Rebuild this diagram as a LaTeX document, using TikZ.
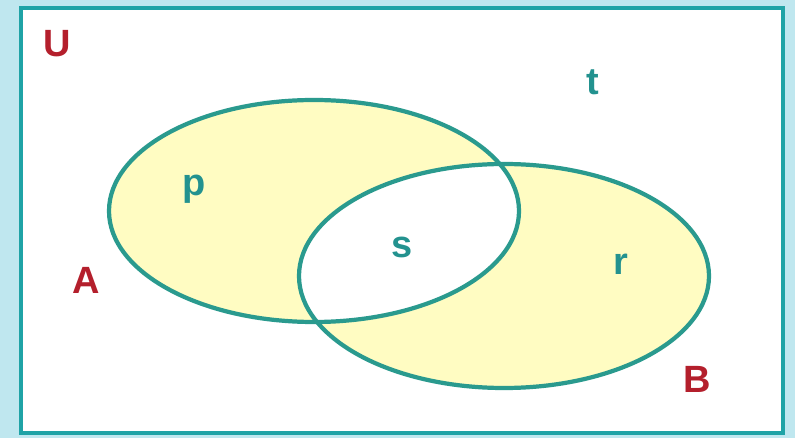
\documentclass[tikz,border=0pt]{standalone}
\usepackage{fontspec}
\setmainfont{Liberation Sans}
\usepackage{tikz}

\definecolor{skyback}{HTML}{BFE7EF}
\definecolor{framecol}{HTML}{1FA3A6}
\definecolor{ringcol}{HTML}{2A9A8E}
\definecolor{setfill}{HTML}{FFFCC2}
\definecolor{setred}{HTML}{B41F2C}
\definecolor{elemcol}{HTML}{23928F}

\tikzset{
  setname/.style={text=setred, font=\fontsize{27}{30}\selectfont\bfseries, inner sep=0pt},
  elem/.style={text=elemcol, font=\fontsize{27}{30}\selectfont\bfseries, inner sep=0pt},
  ring/.style={draw=ringcol, line width=3pt}
}

\begin{document}
\begin{tikzpicture}[x=0.025cm, y=0.025cm]
% background and universe frame
\fill[skyback] (0,0) rectangle (795,-438);
\useasboundingbox (0,0) rectangle (795,-438);
\draw[framecol, fill=white, line width=3.5pt] (21,-8) rectangle (783,-433);

% the two sets, symmetric difference shaded
\fill[setfill] (314,-211) ellipse [x radius=205, y radius=111];
\fill[setfill] (504,-276) ellipse [x radius=205, y radius=112];
\begin{scope}
  \clip (314,-211) ellipse [x radius=205, y radius=111];
  \fill[white] (504,-276) ellipse [x radius=205, y radius=112];
\end{scope}
\draw[ring] (314,-211) ellipse [x radius=205, y radius=111];
\draw[ring] (504,-276) ellipse [x radius=205, y radius=112];

% labels
\node[setname] (labU) at (57,-44) {U};
\node[setname] (labA) at (86,-280) {A};
\node[setname] (labB) at (697,-379) {B};
\node[elem] (elp) at (194,-189) {p};
\node[elem] (els) at (402,-247) {s};
\node[elem] (elr) at (621,-264) {r};
\node[elem] (elt) at (593,-82) {t};
\end{tikzpicture}
\end{document}
